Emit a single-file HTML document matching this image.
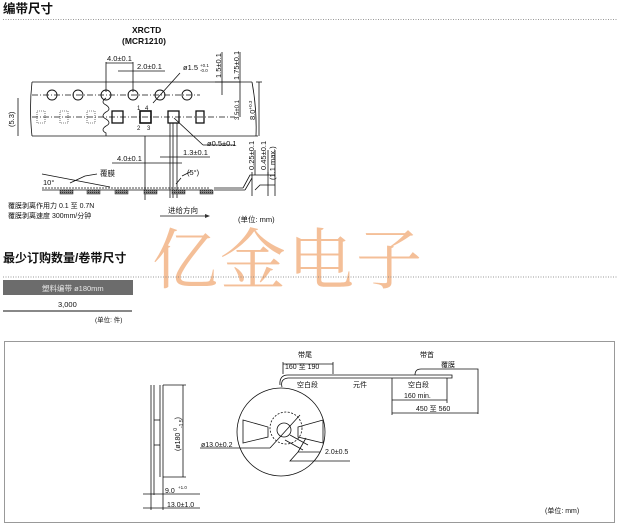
<!DOCTYPE html>
<html><head><meta charset="utf-8"><style>
body{margin:0;background:#fff;width:620px;height:527px;overflow:hidden}
svg{display:block}
text{font-family:"Liberation Sans","Noto Sans CJK SC",sans-serif;fill:#111}
.s{font-size:7.5px}
</style></head><body>
<svg width="620" height="527" viewBox="0 0 620 527" xmlns="http://www.w3.org/2000/svg">
<defs>
<pattern id="h" width="2" height="2" patternUnits="userSpaceOnUse"><rect width="2" height="2" fill="#888"/><rect width="1" height="1" fill="#333"/></pattern>
</defs>
<!-- watermark -->
<text x="152" y="283" font-size="66" style="fill:#f4bf98;font-family:'Noto Serif CJK SC','Noto Sans CJK SC',serif" letter-spacing="2">亿金电子</text>

<!-- section 1 -->
<text x="3" y="13" font-size="12.5" font-weight="bold">编带尺寸</text>
<line x1="3" y1="19.5" x2="618" y2="19.5" stroke="#777" stroke-width="0.8" stroke-dasharray="1,1.5"/>
<text x="132" y="33" font-size="8.5" font-weight="bold">XRCTD</text>
<text x="122" y="44" font-size="8.5" font-weight="bold">(MCR1210)</text>

<g stroke="#111" stroke-width="0.8" fill="none">
<path d="M32 82 L252 82 M32 82 q-3 27 0 54 M32 136 L258 136"/>
<path d="M252 82 q5 27 4 54"/>
<line x1="256" y1="82" x2="262" y2="82"/>
<line x1="259" y1="82" x2="259" y2="136"/>
<g stroke-width="0.9">
<circle cx="52" cy="95" r="5"/><circle cx="78" cy="95" r="5"/><circle cx="106" cy="95" r="5"/><circle cx="133" cy="95" r="5"/><circle cx="160" cy="95" r="5"/><circle cx="187" cy="95" r="5"/>
</g>
<line x1="32" y1="95" x2="200" y2="95" stroke-dasharray="6,2,1,2"/>
<line x1="32" y1="117" x2="235" y2="117" stroke-dasharray="6,2,1,2"/>
<path d="M106 98 q-6 4 0 7 q6 4 0 7 q-6 4 0 7 q6 4 0 7 q-6 4 0 7 l0 3"/>
<rect x="112" y="111" width="11" height="12" stroke-width="1.3"/>
<rect x="140" y="111" width="11" height="12" stroke-width="1.6"/>
<rect x="168" y="111" width="11" height="12" stroke-width="1.3"/>
<rect x="196" y="111" width="8" height="12" stroke-width="1.3"/>
<g stroke-dasharray="1,1" stroke-width="0.6">
<rect x="37" y="111" width="8" height="12"/><rect x="60" y="111" width="8" height="12"/><rect x="87" y="111" width="8" height="12"/>
</g>
<line x1="106" y1="62" x2="106" y2="92"/><line x1="133" y1="62" x2="133" y2="92"/><line x1="106" y1="63" x2="133" y2="63"/>
<line x1="118" y1="71" x2="165" y2="71"/>
<line x1="153" y1="103" x2="180" y2="73"/>
<line x1="215" y1="82" x2="240" y2="82"/>
<line x1="222" y1="52" x2="222" y2="95"/><line x1="240" y1="52" x2="240" y2="117"/>
<line x1="18" y1="98" x2="18" y2="136"/>
<line x1="174" y1="118" x2="203" y2="145"/><line x1="203" y1="145" x2="235" y2="145"/>
<line x1="145" y1="136" x2="145" y2="200"/>
<line x1="170" y1="123" x2="170" y2="198"/><line x1="173" y1="123" x2="173" y2="198"/><line x1="177" y1="123" x2="177" y2="198"/>
<line x1="160" y1="157" x2="210" y2="157"/>
<line x1="112" y1="163" x2="182" y2="163"/>
<line x1="42" y1="188" x2="210" y2="188" stroke-dasharray="2,1"/>
<line x1="42" y1="190" x2="212" y2="190"/>
<line x1="214" y1="188" x2="243" y2="188"/><line x1="214" y1="190" x2="245" y2="190"/>
<path d="M243 188 L250 175 L275 175 M245 190 L252 178 M255 190 L260 185 L275 185"/>
<line x1="252" y1="172" x2="252" y2="196"/><line x1="268" y1="172" x2="268" y2="196"/><line x1="275" y1="150" x2="275" y2="196"/>
<line x1="255" y1="150" x2="255" y2="175"/><line x1="268" y1="150" x2="268" y2="175"/>
<line x1="42" y1="174" x2="110" y2="187"/>
<line x1="70" y1="183" x2="85" y2="176"/><line x1="85" y1="176" x2="97" y2="174"/>
<path d="M176 184 l5 -6 M182 176 l8 -4"/>
<line x1="160" y1="216" x2="205" y2="216"/>
</g>
<g fill="url(#h)" stroke="#222" stroke-width="0.5">
<rect x="60" y="190" width="13" height="4"/><rect x="87" y="190" width="13" height="4"/><rect x="115" y="190" width="13" height="4"/><rect x="144" y="190" width="13" height="4"/><rect x="172" y="190" width="13" height="4"/><rect x="200" y="190" width="13" height="4"/>
</g>
<path d="M205 214 l5 2 l-5 2z" fill="#333"/>
<text x="107" y="61" class="s">4.0±0.1</text>
<text x="137" y="69" class="s">2.0±0.1</text>
<text x="183" y="70" class="s">ø1.5</text>
<text x="200" y="67" font-size="4.5">+0.1</text><text x="200" y="72" font-size="4.5">-0.0</text>
<text x="207" y="146" class="s">ø0.5±0.1</text>
<text x="183" y="155" class="s">1.3±0.1</text>
<text x="117" y="161" class="s">4.0±0.1</text>
<text x="100" y="176" class="s">覆膜</text>
<text x="43" y="185" class="s">10°</text>
<text x="187" y="175" class="s">(5°)</text>
<text x="137" y="110" font-size="6">1</text><text x="145" y="110" font-size="6">4</text>
<text x="137" y="130" font-size="6">2</text><text x="147" y="130" font-size="6">3</text>
<g class="s">
<text transform="translate(221,78) rotate(-90)">1.5±0.1</text>
<text transform="translate(239,80) rotate(-90)">1.75±0.1</text>
<text transform="translate(239,120) rotate(-90)" font-size="6">3.5±0.1</text>
<text transform="translate(255,120) rotate(-90)">8.0<tspan font-size="4.5" dy="-3">+0.3</tspan></text>
<text transform="translate(14,127) rotate(-90)">(5.3)</text>
<text transform="translate(254,170) rotate(-90)">0.25±0.1</text>
<text transform="translate(266,170) rotate(-90)">0.45±0.1</text>
<text transform="translate(275,180) rotate(-90)">(1.1 max.)</text>
</g>
<text x="8" y="208" font-size="7">覆膜剥离作用力 0.1 至 0.7N</text>
<text x="8" y="218" font-size="7">覆膜剥离速度 300mm/分钟</text>
<text x="168" y="213" class="s">进给方向</text>
<text x="238" y="222" class="s">(单位: mm)</text>

<text x="3" y="262" font-size="12" font-weight="bold">最少订购数量/卷带尺寸</text>
<line x1="3" y1="277" x2="618" y2="277" stroke="#777" stroke-width="0.8" stroke-dasharray="1,1.5"/>
<rect x="3" y="280" width="130" height="15" fill="#6c6c6c"/>
<text x="42" y="291" font-size="7.5" style="fill:#e8e8e8">塑料编带 ø180mm</text>
<text x="58" y="307" class="s">3,000</text>
<line x1="3" y1="311" x2="132" y2="311" stroke="#111" stroke-width="1"/>
<text x="95" y="322" font-size="6.5">(单位: 件)</text>

<rect x="4.5" y="341.5" width="610" height="181" fill="none" stroke="#999" stroke-width="1"/>
<g stroke="#111" stroke-width="0.8" fill="none">
<line x1="151" y1="385" x2="151" y2="477"/><line x1="154" y1="385" x2="154" y2="477"/>
<line x1="160" y1="385" x2="160" y2="477"/><line x1="163" y1="385" x2="163" y2="477"/>
<line x1="154" y1="420" x2="160" y2="420"/><line x1="154" y1="445" x2="160" y2="445"/>
<line x1="163" y1="385" x2="186" y2="385"/><line x1="163" y1="477" x2="186" y2="477"/>
<line x1="183" y1="385" x2="183" y2="477"/>
<line x1="151" y1="477" x2="151" y2="510"/><line x1="154" y1="477" x2="154" y2="495"/><line x1="163" y1="477" x2="163" y2="510"/>
<line x1="143" y1="494" x2="200" y2="494"/><line x1="143" y1="508" x2="200" y2="508"/>
<circle cx="281" cy="432" r="44"/>
<circle cx="286" cy="428" r="16" stroke-dasharray="2,1.5"/>
<circle cx="284" cy="430" r="7"/>
<path d="M243 420 L268 427 L268 437 L243 443 Z"/>
<path d="M298 427 L323 420 L323 443 L298 437 Z"/>
<line x1="270" y1="448" x2="300" y2="415"/>
<line x1="200" y1="448" x2="270" y2="448"/>
<path d="M290 435 L308 445 M285 440 L303 450 M306 438 L298 452 L320 452 M298 452 L290 461 L350 461"/>
<path d="M282 387 q-2 -8 6 -9 L452 378 L452 375 L288 375 q-9 0 -8 10"/>
<path d="M415 375 q0 -6 6 -6 L478 369 L478 414"/>
<line x1="283" y1="362" x2="283" y2="374"/><line x1="333" y1="362" x2="333" y2="374"/>
<line x1="283" y1="364" x2="333" y2="364"/>
<line x1="392" y1="378" x2="392" y2="415"/><line x1="447" y1="378" x2="447" y2="403"/>
<line x1="392" y1="400" x2="447" y2="400"/>
<line x1="392" y1="413" x2="478" y2="413"/>
</g>
<text transform="translate(180,451) rotate(-90)" font-size="7">(ø180 <tspan font-size="5" dy="-3">0</tspan><tspan font-size="5" dy="6">-1.5</tspan><tspan dy="-3">)</tspan></text>
<text x="165" y="493" font-size="7">9.0</text><text x="178" y="489" font-size="4.5">+1.0</text>
<text x="167" y="507" font-size="7">13.0±1.0</text>
<text x="201" y="447" font-size="7">ø13.0±0.2</text>
<text x="325" y="454" font-size="7">2.0±0.5</text>
<text x="298" y="357" font-size="7">带尾</text>
<text x="285" y="369" font-size="7">160 至 190</text>
<text x="297" y="387" font-size="7">空白段</text>
<text x="353" y="387" font-size="7">元件</text>
<text x="420" y="357" font-size="7">带首</text>
<text x="441" y="367" font-size="7">覆膜</text>
<text x="408" y="387" font-size="7">空白段</text>
<text x="404" y="398" font-size="7">160 min.</text>
<text x="416" y="411" font-size="7">450 至 560</text>
<text x="545" y="513" font-size="7">(单位: mm)</text>
</svg>
</body></html>
